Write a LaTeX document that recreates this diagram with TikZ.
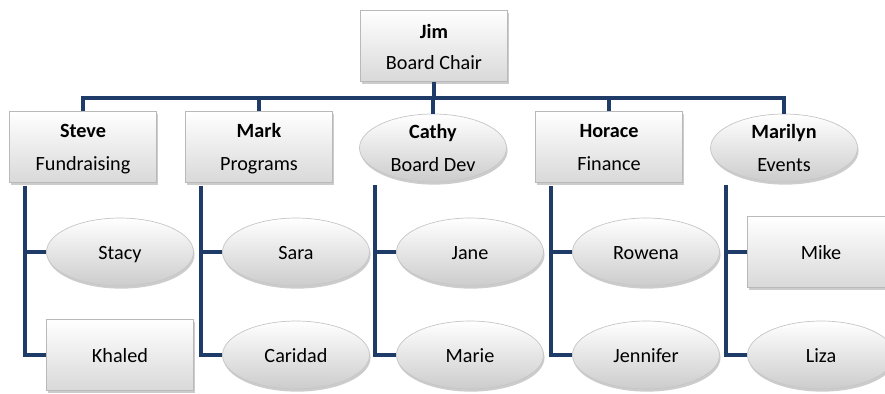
\documentclass[tikz,border=0pt]{standalone}
\usepackage{fontspec}
\setmainfont{Carlito}
\usetikzlibrary{shapes.geometric,shadows,calc}
\definecolor{bleu}{RGB}{31,60,104}

\begin{document}
\begin{tikzpicture}[x=0.02cm,y=-0.02cm,
    font=\fontsize{11.5}{17.9}\selectfont,
    ombre/.style={drop shadow={shadow xshift=0.6pt,shadow yshift=-1.5pt,opacity=0.4}},
    poste/.style={rectangle,draw=gray!55,top color=white,bottom color=gray!30,
      minimum width=2.94cm,minimum height=1.42cm,align=center,ombre},
    bulle/.style={ellipse,draw=gray!45,top color=white,bottom color=gray!40,
      minimum width=2.94cm,minimum height=1.36cm,inner sep=0pt,align=center,ombre},
    rang1/.style={text height=26.7pt,text depth=0pt},
    rang2/.style={font=\fontsize{11.5}{19}\selectfont,text height=27pt,text depth=-7.6pt},
    rang3/.style={text height=9pt,text depth=0pt},
    lien/.style={draw=bleu,line width=2.4pt}]
          \clip (0,0) rectangle (885,393);
          % Niveau 1
          \node[poste,rang1] (jim) at (434,46) {\textbf{Jim}\\Board Chair};
          % Niveau 2
          \node[poste,rang2] (steve) at (83,147) {\textbf{Steve}\\Fundraising};
          \node[poste,rang2] (mark) at (259,147) {\textbf{Mark}\\Programs};
          \node[bulle,rang2] (cathy) at (433,148) {\textbf{Cathy}\\Board Dev};
          \node[poste,rang2] (horace) at (609,147) {\textbf{Horace}\\Finance};
          \node[bulle,rang2] (marilyn) at (784,148) {\textbf{Marilyn}\\Events};
          % Niveau 3
          \node[bulle,rang3] (stacy) at (120,252) {Stacy};
          \node[poste,rang3] (khaled) at (120,355) {Khaled};
          \node[bulle,rang3] (sara) at (296,252) {Sara};
          \node[bulle,rang3] (caridad) at (296,355) {Caridad};
          \node[bulle,rang3] (jane) at (470,252) {Jane};
          \node[bulle,rang3] (marie) at (470,355) {Marie};
          \node[bulle,rang3] (rowena) at (646,252) {Rowena};
          \node[bulle,rang3] (jennifer) at (646,355) {Jennifer};
          \node[poste,rang3] (mike) at (821,252) {Mike};
          \node[bulle,rang3] (liza) at (821,355) {Liza};

          % Ajout des liens du niveau 2
          \coordinate (bus) at (434,98);
          \draw[lien] (jim.south) -- (bus);
          \draw[lien] (steve.north) |- (bus) -| (marilyn.north);
          \foreach \n in {mark,cathy,horace}
              \draw[lien] (\n.north) -- (\n.north |- bus);

          % Ajout des liens du niveau 3
          \foreach \p/\a/\b in {steve/stacy/khaled, mark/sara/caridad, cathy/jane/marie,
                                horace/rowena/jennifer, marilyn/mike/liza} {
              \coordinate (\p-pied) at ($(\p.south)+(-58,3)$);
              \draw[lien] (\p-pied) |- (\a.west);
              \draw[lien] (\p-pied) |- (\b.west);
          }
      \end{tikzpicture}
\end{document}
